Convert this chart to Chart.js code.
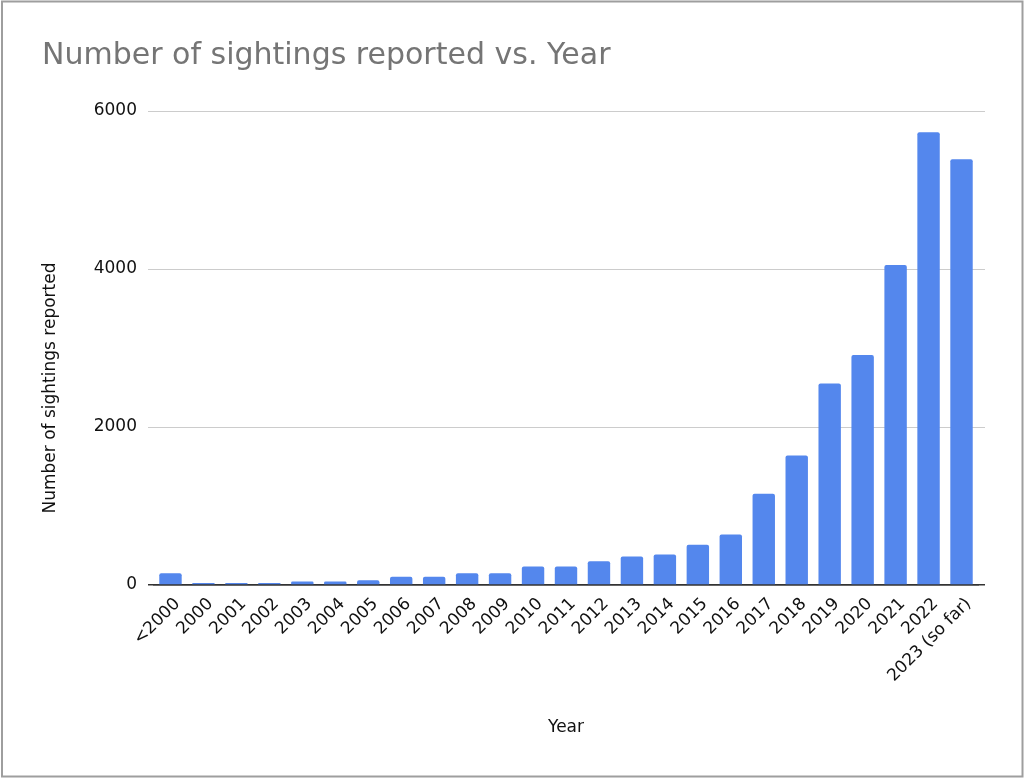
<!DOCTYPE html>
<html>
<head>
<meta charset="utf-8">
<script src="https://cdn.jsdelivr.net/npm/chart.js@4.4.1/dist/chart.umd.min.js"></script>
<style>
  html, body { margin: 0; padding: 0; background: #fff; }
  #wrap { position: absolute; left: 0; top: 0; width: 1024px; height: 778px; }
</style>
</head>
<body>
<div id="wrap"><canvas id="chart" width="1024" height="778"></canvas></div>
<script>
  // Data
  const years = ['<2000', '2000', '2001', '2002', '2003', '2004', '2005', '2006', '2007', '2008',
    '2009', '2010', '2011', '2012', '2013', '2014', '2015', '2016', '2017', '2018',
    '2019', '2020', '2021', '2022', '2023 (so far)'];
  const sightings = [150, 25, 25, 25, 45, 45, 60, 105, 105, 150,
    150, 235, 235, 300, 360, 385, 510, 640, 1155, 1640,
    2550, 2910, 4050, 5730, 5390];
  const yTicks = [0, 2000, 4000, 6000];
  const yTitle = 'Number of sightings reported';

  const FONT = "'DejaVu Sans', Verdana, sans-serif";

  // grid lines grey, the zero line dark like an axis
  const gridColor = ctx => (ctx.tick && ctx.tick.value === 0 ? '#333' : '#cccccc');
  const gridWidth = ctx => (ctx.tick && ctx.tick.value === 0 ? 1.5 : 1);

  // white background + grey frame round the whole picture
  const framePlugin = {
    id: 'frame',
    beforeDraw(chart) {
      const c = chart.ctx;
      c.save();
      c.fillStyle = '#fff';
      c.fillRect(0, 0, chart.width, chart.height);
      c.strokeStyle = '#9e9e9e';
      c.lineWidth = 2;
      c.strokeRect(2, 1.5, chart.width - 3.5, chart.height - 3);
      c.restore();
    }
  };

  // y axis title, centred over plot + label band as in the sheet chart
  const yTitlePlugin = {
    id: 'yTitle',
    afterDraw(chart) {
      const c = chart.ctx;
      c.save();
      c.translate(51, 388);
      c.rotate(-Math.PI / 2);
      c.font = '17px ' + FONT;
      c.fillStyle = '#111';
      c.textAlign = 'center';
      c.textBaseline = 'middle';
      c.fillText(yTitle, 0, 0);
      c.restore();
    }
  };

  new Chart(document.getElementById('chart'), {
    type: 'bar',
    data: {
      labels: years,
      datasets: [{
        label: yTitle,
        data: sightings,
        backgroundColor: '#5487ed',
        borderRadius: 2,
        borderSkipped: 'bottom',
        barPercentage: 0.68,
        categoryPercentage: 1
      }]
    },
    options: {
      responsive: false,
      animation: false,
      devicePixelRatio: 1,
      layout: { padding: { left: 42, right: 39, top: 0, bottom: 40 } },
      plugins: {
        legend: { display: false },
        tooltip: { enabled: false },
        title: {
          display: true,
          text: 'Number of sightings reported vs. Year',
          align: 'start',
          color: '#757575',
          font: { family: FONT, size: 30, weight: 'normal' },
          padding: { top: 38, bottom: 37 }
        }
      },
      scales: {
        x: {
          grid: { display: false, drawTicks: false },
          border: { display: true, color: '#333', width: 1.5 },
          ticks: {
            color: '#111',
            font: { family: FONT, size: 17 },
            maxRotation: 45, minRotation: 45,
            autoSkip: false,
            labelOffset: 7,
            padding: 9
          },
          title: {
            display: true, text: 'Year', color: '#111',
            font: { family: FONT, size: 17 }, padding: 0
          },
          afterFit(scale) { scale.height = 153; }
        },
        y: {
          min: 0, max: 6000,
          afterBuildTicks(scale) { scale.ticks = yTicks.map(v => ({ value: v })); },
          grid: { color: gridColor, lineWidth: gridWidth, drawTicks: true, tickLength: 6 },
          border: { display: false },
          ticks: {
            color: '#111', font: { family: FONT, size: 17 }, padding: 11,
            callback: v => String(v)
          },
          afterFit(scale) { scale.width = 112; }
        },
        // right-hand stub so grid lines run a little past the last bar
        yRight: {
          position: 'right',
          min: 0, max: 6000,
          afterBuildTicks(scale) { scale.ticks = yTicks.map(v => ({ value: v })); },
          grid: { color: gridColor, lineWidth: gridWidth, drawOnChartArea: false, drawTicks: true, tickLength: 7 },
          border: { display: false },
          ticks: { display: false },
          afterFit(scale) { scale.width = 7; }
        }
      }
    },
    plugins: [framePlugin, yTitlePlugin]
  });
</script>
</body>
</html>
